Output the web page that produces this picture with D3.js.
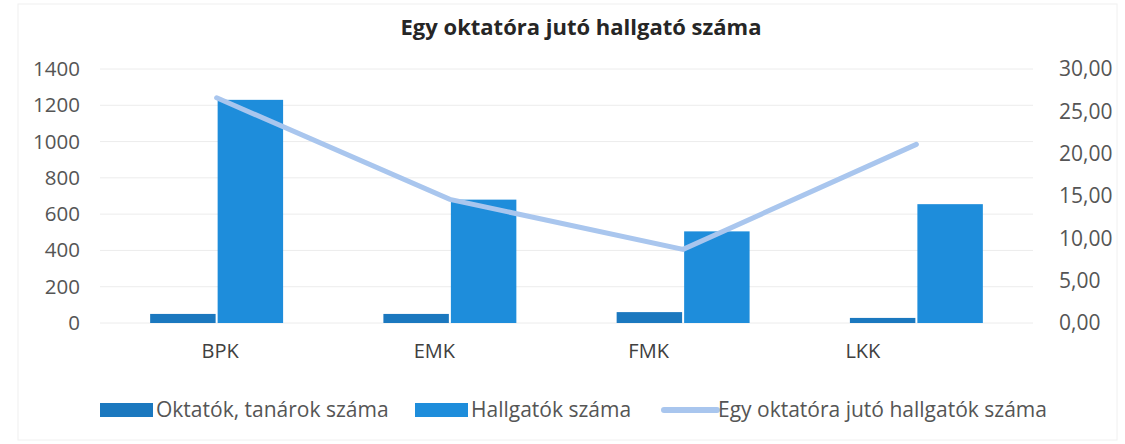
<!DOCTYPE html>
<html>
<head>
<meta charset="utf-8">
<script src="https://cdn.jsdelivr.net/npm/d3@7"></script>
<style>
  body { margin: 0; background: #fff; }
  text { font-family: "Open Sans", sans-serif; }
</style>
</head>
<body>
<div id="chart"></div>
<script>
const categories = ["BPK", "EMK", "FMK", "LKK"];
const oktatok = [50, 50, 60, 28];
const hallgatok = [1230, 680, 505, 655];
const arany = [26.6, 14.6, 8.7, 21.1];
const leftTicks = [0, 200, 400, 600, 800, 1000, 1200, 1400];
const rightTicks = [0, 5, 10, 15, 20, 25, 30];
const seriesNames = ["Oktatók, tanárok száma", "Hallgatók száma", "Egy oktatóra jutó hallgatók száma"];

const W = 1125, H = 444;
const plot = { left: 100, right: 1033, top: 69, bottom: 323 };
const colors = { dark: "#1b78bf", light: "#1e8ddb", line: "#a9c6ee", grid: "#ececec", text: "#555555" };

const svg = d3.select("#chart").append("svg")
  .attr("width", W)
  .attr("height", H);

svg.append("rect")
  .attr("x", 18).attr("y", 4)
  .attr("width", W - 26).attr("height", H - 8)
  .attr("fill", "none")
  .attr("stroke", "#f0f0f0");

const x = d3.scaleBand().domain(categories).range([plot.left, plot.right]).paddingInner(0.43).paddingOuter(0.215);
const xSub = d3.scaleBand().domain([0, 1]).range([0, x.bandwidth()]).paddingInner(0.03);
const xLabel = d3.scaleBand().domain(categories).range([113, 970]);
const yL = d3.scaleLinear().domain([0, 1400]).range([plot.bottom, plot.top]);
const yR = d3.scaleLinear().domain([0, 30]).range([plot.bottom, plot.top]);

// gridlines
svg.append("g")
  .selectAll("line")
  .data(leftTicks)
  .join("line")
  .attr("x1", plot.left).attr("x2", plot.right)
  .attr("y1", d => yL(d)).attr("y2", d => yL(d))
  .attr("stroke", colors.grid)
  .attr("stroke-width", 1);

// left axis
const leftAxis = svg.append("g")
  .attr("transform", `translate(${plot.left - 20},0)`)
  .call(d3.axisLeft(yL).tickValues(leftTicks).tickSize(0).tickPadding(0).tickFormat(d3.format("d")));
leftAxis.select(".domain").remove();
leftAxis.selectAll("text").attr("fill", colors.text).style("font-size", "20.5px");

// right axis
const rightAxis = svg.append("g")
  .attr("transform", `translate(${plot.right + 26},0)`)
  .call(d3.axisRight(yR).tickValues(rightTicks).tickSize(0).tickPadding(0)
    .tickFormat(d => d3.format(".2f")(d).replace(".", ",")));
rightAxis.select(".domain").remove();
rightAxis.selectAll("text").attr("fill", colors.text).style("font-size", "21px");

// bottom labels
const bottomAxis = svg.append("g")
  .attr("transform", `translate(0,${plot.bottom + 21})`)
  .call(d3.axisBottom(xLabel).tickSize(0).tickPadding(0));
bottomAxis.select(".domain").remove();
bottomAxis.selectAll("text").attr("fill", "#404040").style("font-size", "20px");

// bars
const seriesBars = [oktatok, hallgatok];
const barColors = [colors.dark, colors.light];
seriesBars.forEach((vals, s) => {
  svg.append("g")
    .selectAll("rect")
    .data(vals)
    .join("rect")
    .attr("x", (d, i) => x(categories[i]) + xSub(s))
    .attr("y", d => yL(d))
    .attr("width", xSub.bandwidth())
    .attr("height", d => yL(0) - yL(d))
    .attr("fill", barColors[s]);
});

// ratio line
const line = d3.line()
  .x((d, i) => x(categories[i]) + x.bandwidth() / 2)
  .y(d => yR(d));
svg.append("path")
  .datum(arany)
  .attr("d", line)
  .attr("fill", "none")
  .attr("stroke", colors.line)
  .attr("stroke-width", 5)
  .attr("stroke-linecap", "round");

// title
svg.append("text")
  .attr("x", 581)
  .attr("y", 35)
  .attr("text-anchor", "middle")
  .attr("fill", "#262626")
  .style("font-size", "22px")
  .style("font-weight", "bold")
  .text("Egy oktatóra jutó hallgató száma");

// legend
const legendItems = [
  { name: seriesNames[0], type: "rect", color: colors.dark, x: 100 },
  { name: seriesNames[1], type: "rect", color: colors.light, x: 415 },
  { name: seriesNames[2], type: "line", color: colors.line, x: 662 }
];
const lg = svg.append("g").attr("transform", "translate(0,410)");
legendItems.forEach(item => {
  if (item.type === "rect") {
    lg.append("rect")
      .attr("x", item.x).attr("y", -7)
      .attr("width", 53).attr("height", 14)
      .attr("fill", item.color);
  } else {
    lg.append("line")
      .attr("x1", item.x + 2).attr("x2", item.x + 55)
      .attr("y1", 0).attr("y2", 0)
      .attr("stroke", item.color)
      .attr("stroke-width", 6)
      .attr("stroke-linecap", "round");
  }
  lg.append("text")
    .attr("x", item.x + 56)
    .attr("y", 0)
    .attr("dy", "0.35em")
    .attr("fill", colors.text)
    .style("font-size", "21px")
    .text(item.name);
});
</script>
</body>
</html>
